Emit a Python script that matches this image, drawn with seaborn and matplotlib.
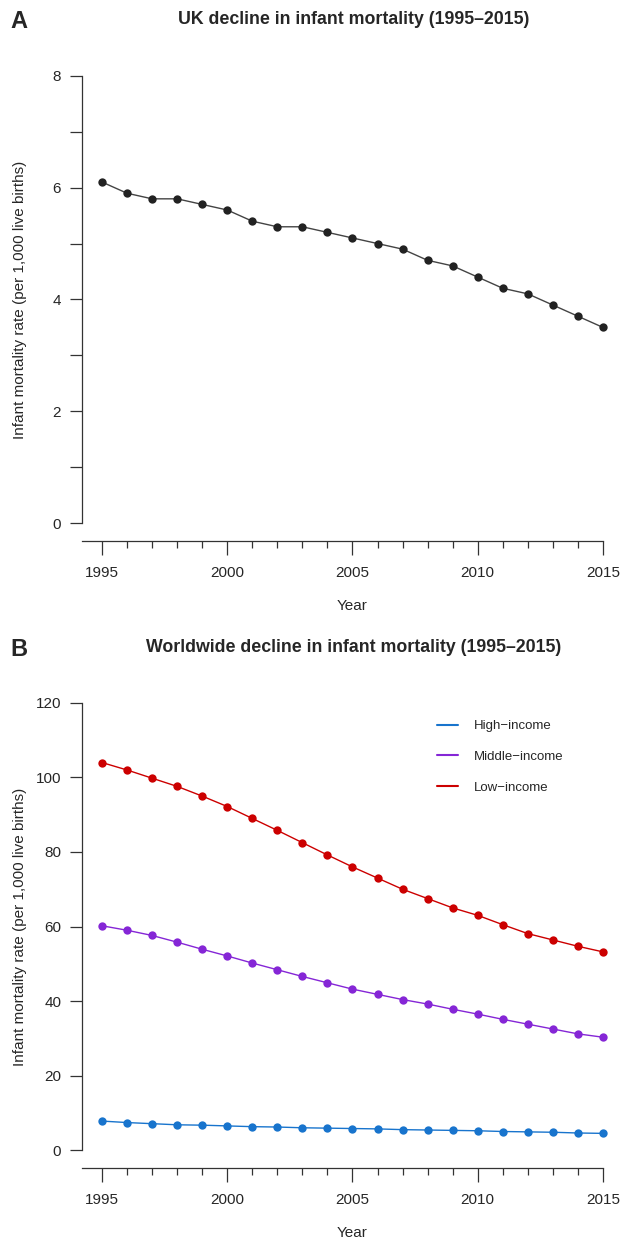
import pandas as pd
import numpy as np
import seaborn as sns
import matplotlib.pyplot as plt
from matplotlib.lines import Line2D
from matplotlib.ticker import MultipleLocator

# data
years = list(range(1995, 2016))
uk_rate = [6.1, 5.9, 5.8, 5.8, 5.7, 5.6, 5.4, 5.3, 5.3, 5.2, 5.1,
           5.0, 4.9, 4.7, 4.6, 4.4, 4.2, 4.1, 3.9, 3.7, 3.5]
high_income = [7.8, 7.4, 7.1, 6.8, 6.7, 6.5, 6.3, 6.2, 6.0, 5.9, 5.8,
               5.7, 5.5, 5.4, 5.3, 5.2, 5.0, 4.9, 4.8, 4.6, 4.5]
middle_income = [60.2, 59.0, 57.6, 55.8, 53.9, 52.1, 50.2, 48.4, 46.6, 44.9, 43.2,
                 41.8, 40.4, 39.2, 37.8, 36.5, 35.1, 33.8, 32.5, 31.2, 30.3]
low_income = [104.0, 102.0, 99.8, 97.6, 95.0, 92.2, 89.0, 85.8, 82.5, 79.2, 76.0,
              73.0, 70.0, 67.5, 65.0, 63.0, 60.5, 58.1, 56.4, 54.7, 53.2]
groups = ['High\u2212income', 'Middle\u2212income', 'Low\u2212income']
colors = ['#1874CD', '#8526D6', '#CC0000']

sns.set_style('ticks')
plt.rcParams['font.family'] = ['Liberation Sans', 'DejaVu Sans']

df_uk = pd.DataFrame({'Year': years, 'rate': uk_rate})
df_world = pd.DataFrame({
    'Year': years * 3,
    'rate': high_income + middle_income + low_income,
    'group': [groups[0]] * 21 + [groups[1]] * 21 + [groups[2]] * 21,
})

W, H = 622, 1241
fig = plt.figure(figsize=(W / 100, H / 100), dpi=100)
ax1 = fig.add_axes([0.1318, 0.5641, 0.8698, 0.3892])
ax2 = fig.add_axes([0.1318, 0.0588, 0.8698, 0.3892])

ylab = 'Infant mortality rate (per 1,000 live births)'


def style_axis(ax, ymax, ystep, yminor):
    ax.set_xlim(1994.2, 2015.8)
    pad = ymax * 0.04
    ax.set_ylim(-pad, ymax + pad)
    ax.xaxis.set_major_locator(MultipleLocator(5))
    ax.xaxis.set_minor_locator(MultipleLocator(1))
    ax.set_yticks(np.arange(0, ymax + 0.001, ystep))
    if yminor:
        ax.yaxis.set_minor_locator(MultipleLocator(yminor))
    ax.spines['top'].set_visible(False)
    ax.spines['right'].set_visible(False)
    ax.spines['left'].set_bounds(0, ymax)
    ax.spines['bottom'].set_bounds(1994.2, 2015)
    for s in ['left', 'bottom']:
        ax.spines[s].set_color('#333333')
        ax.spines[s].set_linewidth(0.9)
    ax.tick_params(axis='x', which='major', length=10, width=0.9, color='#333333',
                   labelsize=11, pad=8)
    ax.tick_params(axis='x', which='minor', length=5, width=0.9, color='#333333')
    ax.tick_params(axis='y', which='both', length=9, width=0.9, color='#333333',
                   labelsize=11, pad=6)
    ax.set_xlabel('Year', fontsize=11, labelpad=14)
    ax.set_ylabel(ylab, fontsize=11)
    ax.yaxis.set_label_coords(-0.101, 0.5)


# panel A
sns.lineplot(data=df_uk, x='Year', y='rate', ax=ax1, color='#444444', lw=1,
             marker='o', markersize=6, markeredgewidth=0,
             markerfacecolor='#222222')
style_axis(ax1, 8, 2, 1)
fig.text(354 / W, 1 - 20 / H, 'UK decline in infant mortality (1995\u20132015)',
         fontsize=12.8, fontweight='bold', ha='center', va='center')
fig.text(10 / W, 1 - 22 / H, 'A', fontsize=17, fontweight='bold', va='center')

# panel B
sns.lineplot(data=df_world, x='Year', y='rate', hue='group', hue_order=groups,
             palette=colors, ax=ax2, lw=1, marker='o', markersize=6,
             markeredgewidth=0, legend=False)
style_axis(ax2, 120, 20, None)
fig.text(354 / W, 1 - 648 / H, 'Worldwide decline in infant mortality (1995\u20132015)',
         fontsize=12.8, fontweight='bold', ha='center', va='center')
fig.text(10 / W, 1 - 649 / H, 'B', fontsize=17, fontweight='bold', va='center')

handles = [Line2D([0], [0], color=c, lw=1.5) for c in colors]
ax2.legend(handles, groups, frameon=False, fontsize=9.5, loc='upper left',
           bbox_to_anchor=((437 - 82 - 12) / 541, (1168 - 708) / 483),
           handlelength=1.6, labelspacing=1.4, handletextpad=1.2)

fig.savefig('out.png', dpi=100)
